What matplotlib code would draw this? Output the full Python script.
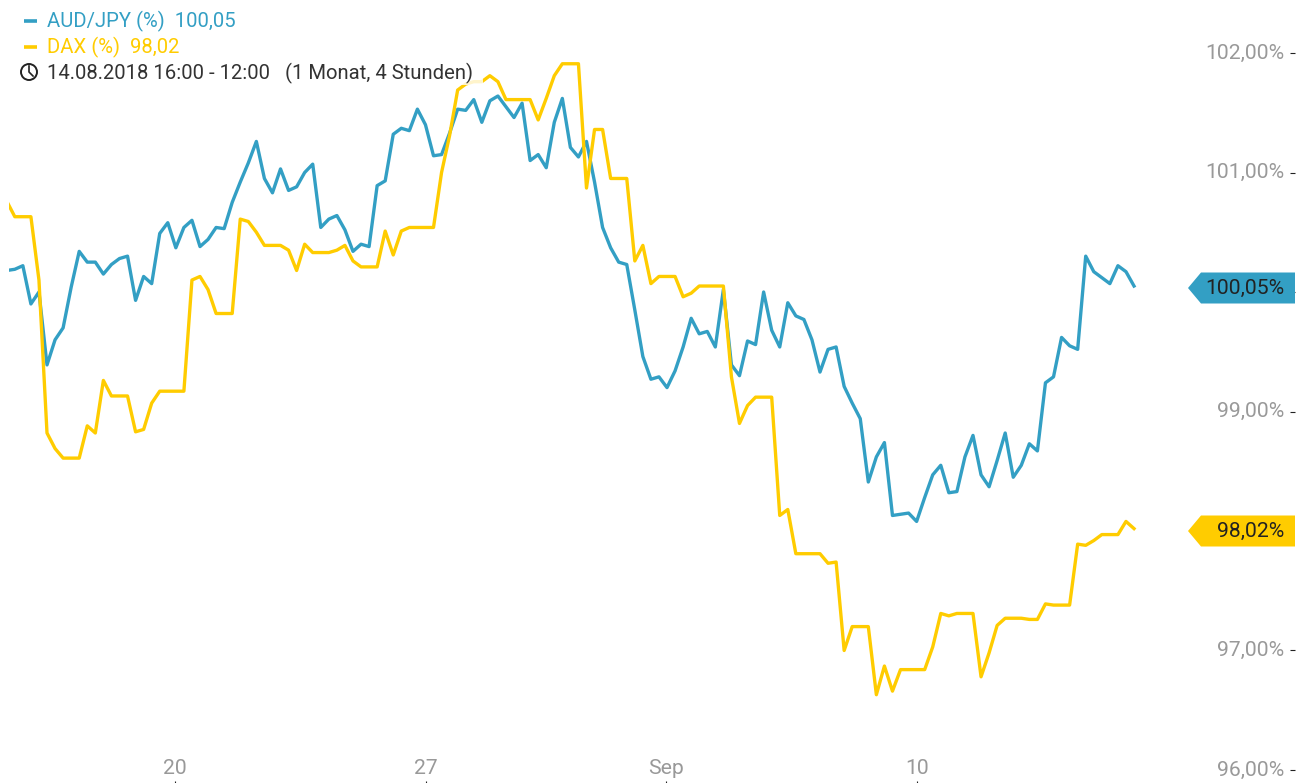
import matplotlib
matplotlib.use("Agg")
import matplotlib.pyplot as plt
from matplotlib.lines import Line2D
from matplotlib.patches import Polygon, Circle, Rectangle
from matplotlib.transforms import IdentityTransform

plt.rcParams['font.family'] = ['Roboto', 'DejaVu Sans']

aud_jpy = [100.18, 100.19, 100.22, 99.90, 100.00, 99.39, 99.60, 99.70, 100.04, 100.34,
           100.25, 100.25, 100.15, 100.23, 100.28, 100.30, 99.93, 100.13, 100.07, 100.49,
           100.58, 100.37, 100.54, 100.60, 100.38, 100.44, 100.54, 100.53, 100.75, 100.92,
           101.08, 101.26, 100.95, 100.83, 101.03, 100.85, 100.88, 101.00, 101.07, 100.54,
           100.61, 100.64, 100.52, 100.34, 100.40, 100.38, 100.89, 100.93, 101.32, 101.37,
           101.35, 101.53, 101.40, 101.14, 101.15, 101.33, 101.53, 101.52, 101.61, 101.42,
           101.60, 101.64, 101.55, 101.46, 101.58, 101.10, 101.15, 101.04, 101.42, 101.62,
           101.21, 101.13, 101.26, 100.92, 100.54, 100.37, 100.25, 100.23, 99.85, 99.46,
           99.27, 99.29, 99.20, 99.34, 99.54, 99.78, 99.65, 99.67, 99.54, 100.02,
           99.39, 99.30, 99.59, 99.56, 100.00, 99.68, 99.54, 99.91, 99.80, 99.77,
           99.60, 99.33, 99.52, 99.54, 99.21, 99.07, 98.94, 98.41, 98.62, 98.74,
           98.13, 98.14, 98.15, 98.08, 98.28, 98.47, 98.55, 98.32, 98.33, 98.62,
           98.80, 98.47, 98.37, 98.59, 98.82, 98.45, 98.55, 98.73, 98.67, 99.24,
           99.29, 99.62, 99.55, 99.52, 100.30, 100.17, 100.12, 100.07, 100.22, 100.17,
           100.05]

dax = [100.76, 100.63, 100.63, 100.63, 100.10, 98.82, 98.69, 98.61, 98.61, 98.61,
       98.88, 98.82, 99.26, 99.13, 99.13, 99.13, 98.83, 98.85, 99.07, 99.17,
       99.17, 99.17, 99.17, 100.10, 100.13, 100.02, 99.82, 99.82, 99.82, 100.61,
       100.59, 100.50, 100.39, 100.39, 100.39, 100.35, 100.18, 100.40, 100.33, 100.33,
       100.33, 100.35, 100.39, 100.26, 100.21, 100.21, 100.21, 100.51, 100.31, 100.51,
       100.54, 100.54, 100.54, 100.54, 101.00, 101.31, 101.69, 101.74, 101.76, 101.76,
       101.81, 101.76, 101.61, 101.61, 101.61, 101.61, 101.44, 101.62, 101.81, 101.91,
       101.91, 101.91, 100.87, 101.36, 101.36, 100.95, 100.95, 100.95, 100.26, 100.39,
       100.07, 100.13, 100.13, 100.13, 99.96, 99.99, 100.05, 100.05, 100.05, 100.05,
       99.29, 98.90, 99.05, 99.12, 99.12, 99.12, 98.13, 98.18, 97.81, 97.81,
       97.81, 97.81, 97.73, 97.74, 97.00, 97.20, 97.20, 97.20, 96.63, 96.87,
       96.66, 96.84, 96.84, 96.84, 96.84, 97.03, 97.31, 97.29, 97.31, 97.31,
       97.31, 96.78, 96.98, 97.21, 97.27, 97.27, 97.27, 97.26, 97.26, 97.39,
       97.38, 97.38, 97.38, 97.89, 97.88, 97.92, 97.97, 97.97, 97.97, 98.08,
       98.02]

y_ticks = [96, 97, 99, 100, 101, 102]
y_tick_labels = ['96,00%', '97,00%', '99,00%', '', '101,00%', '102,00%']
x_ticks = [19.9, 51.06, 80.9, 112.05]
x_tick_labels = ['20', '27', 'Sep', '10']
legend_entries = ['AUD/JPY (%)  100,05', 'DAX (%)  98,02']
range_text = '14.08.2018 16:00 - 12:00   (1 Monat, 4 Stunden)'
last_labels = ['100,05%', '98,02%']

BLUE = '#339fc4'
YELLOW = '#ffcc00'
W, H = 1308, 783
TICK_FS = 15.2
LEGEND_FS = 14.6


def fx(x):
    return x / W


def fy(y):
    return 1 - y / H


fig = plt.figure(figsize=(W / 100, H / 100), dpi=100, facecolor='white')
ax = fig.add_axes([fx(9), 0, (1295 - 9) / W, 1])
ax.set_facecolor('none')
for s in ax.spines.values():
    s.set_visible(False)

idx = list(range(-1, len(aud_jpy) - 1))
ax.plot(idx, aud_jpy, color=BLUE, lw=2.4, solid_joinstyle='round', zorder=2)
ax.plot(idx, dax, color=YELLOW, lw=2.4, solid_joinstyle='round', zorder=3)

ax.set_xlim((9 - 14.8) / 8.052, (1295 - 14.8) / 8.052)
ax.set_ylim(99 + (411.5 - 783) / 119.5, 99 + 411.5 / 119.5)

ax.yaxis.tick_right()
ax.set_yticks(y_ticks, y_tick_labels)
ax.tick_params(axis='y', direction='in', length=3.6, width=0.8, color='#222222',
               pad=-7.9, labelsize=TICK_FS, labelcolor='#999999')
for lab in ax.get_yticklabels():
    lab.set_ha('right')
    lab.set_va('center')
ax.set_xticks(x_ticks, x_tick_labels)
ax.tick_params(axis='x', direction='in', length=1.6, width=0.8, color='#222222',
               pad=-17, labelsize=TICK_FS, labelcolor='#999999')

# translucent panel behind the legend
fig.add_artist(Rectangle((fx(10), fy(84.5)), 473 / W, 76 / H, transform=fig.transFigure,
                         facecolor='white', alpha=0.8, edgecolor='none', zorder=4))

# legend
for text, color, yc in zip(legend_entries, [BLUE, YELLOW], [20.5, 46.5]):
    fig.add_artist(Line2D([fx(24), fx(37)], [fy(yc)] * 2, color=color, lw=2.6,
                          transform=fig.transFigure, solid_capstyle='butt', zorder=5))
    fig.text(fx(47), fy(yc + 1), text, color=color, fontsize=LEGEND_FS, va='center', ha='left', zorder=6)

# clock icon
fig.add_artist(Circle((29, H - 72), 8, transform=IdentityTransform(), fill=False,
                      edgecolor='#222222', lw=1.4, zorder=5))
fig.add_artist(Line2D([fx(29), fx(29), fx(33)], [fy(66), fy(72), fy(76)], color='#222222',
                      lw=1.2, transform=fig.transFigure, zorder=5))
fig.text(fx(47), fy(73.5), range_text, color='#333333', fontsize=LEGEND_FS, va='center', ha='left', zorder=6)

# last-value badges
for text, color, yc in zip(last_labels, [BLUE, YELLOW], [288, 531]):
    pts = [(1188, yc), (1201, yc - 15.5), (1295, yc - 15.5), (1295, yc + 15.5), (1201, yc + 15.5)]
    fig.add_artist(Polygon([(fx(a), fy(b)) for a, b in pts], closed=True, facecolor=color,
                           edgecolor='none', transform=fig.transFigure, zorder=5))
    fig.text(fx(1284), fy(yc + 0.5), text, color='#222222', fontsize=TICK_FS, va='center', ha='right', zorder=6)

fig.savefig('out.png', dpi=100, facecolor='white')
